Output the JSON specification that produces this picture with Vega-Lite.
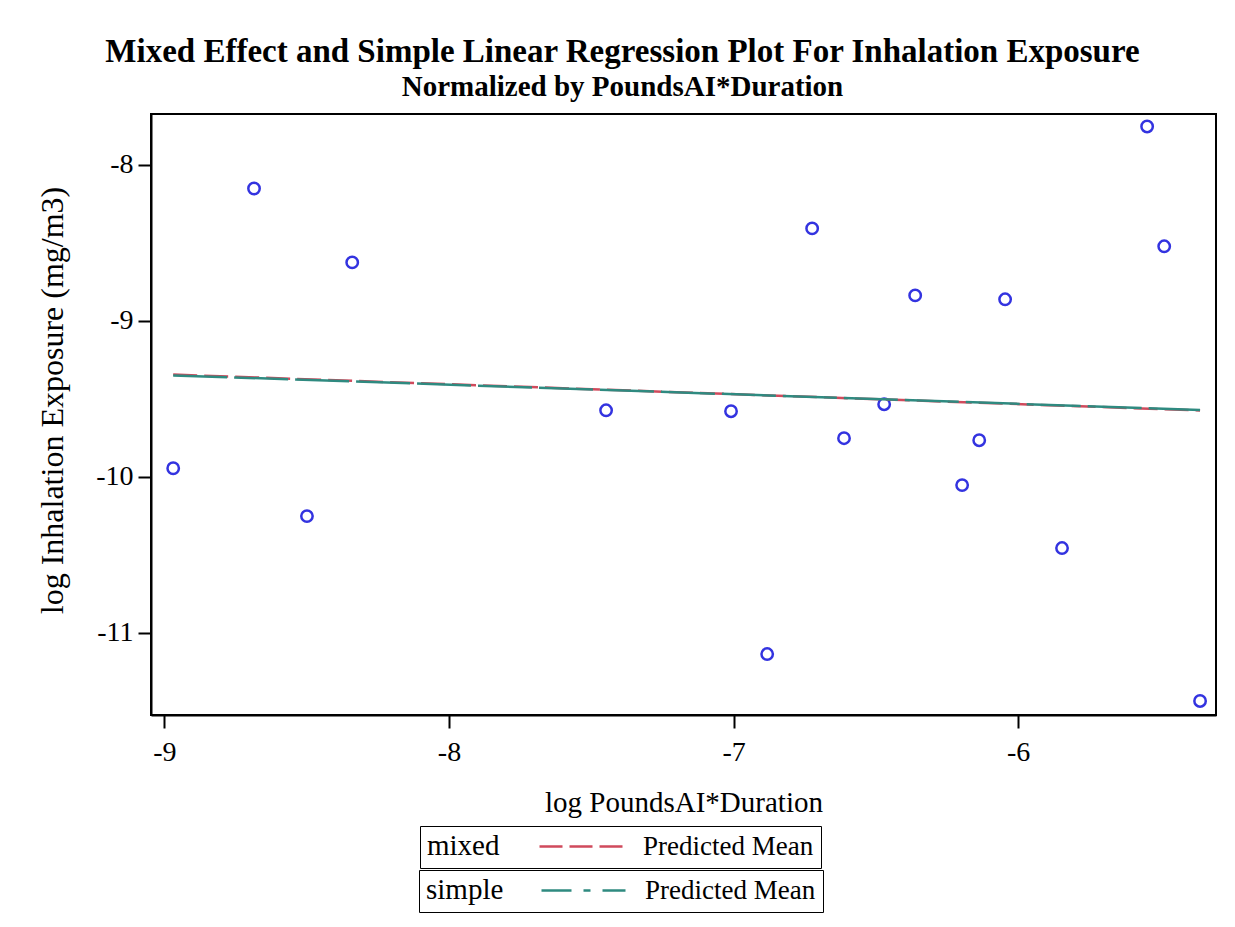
{
  "$schema": "https://vega.github.io/schema/vega-lite/v6.json",
  "autosize": {"type": "none"},
  "width": 1065,
  "height": 601,
  "padding": {"left": 151, "top": 114, "right": 19, "bottom": 212},
  "background": "white",
  "title": {
    "text": "Mixed Effect and Simple Linear Regression Plot For Inhalation Exposure",
    "subtitle": "Normalized by PoundsAI*Duration",
    "anchor": "middle",
    "frame": "group",
    "dx": -61,
    "offset": 12,
    "font": "Liberation Serif",
    "fontSize": 33,
    "fontWeight": "bold",
    "color": "black",
    "subtitleFont": "Liberation Serif",
    "subtitleFontSize": 29,
    "subtitleFontWeight": "bold",
    "subtitleColor": "black",
    "subtitlePadding": 4
  },
  "datasets": {
    "points": [
      {"x": -8.969, "y": -9.946},
      {"x": -8.685, "y": -8.151},
      {"x": -8.499, "y": -10.253},
      {"x": -8.340, "y": -8.625},
      {"x": -7.448, "y": -9.574},
      {"x": -7.009, "y": -9.580},
      {"x": -6.882, "y": -11.138},
      {"x": -6.724, "y": -8.407},
      {"x": -6.612, "y": -9.753},
      {"x": -6.471, "y": -9.535},
      {"x": -6.362, "y": -8.837},
      {"x": -6.197, "y": -10.054},
      {"x": -6.137, "y": -9.766},
      {"x": -6.046, "y": -8.862},
      {"x": -5.846, "y": -10.458},
      {"x": -5.547, "y": -7.753},
      {"x": -5.487, "y": -8.522},
      {"x": -5.361, "y": -11.439}
    ],
    "mixed": [
      {"x": -8.969, "y": -9.345, "label": "Predicted Mean"},
      {"x": -5.361, "y": -9.575, "label": "Predicted Mean"}
    ],
    "simple": [
      {"x": -8.969, "y": -9.350, "label": "Predicted Mean"},
      {"x": -5.361, "y": -9.572, "label": "Predicted Mean"}
    ]
  },
  "layer": [
    {
      "data": {"name": "points"},
      "mark": {"type": "point", "shape": "circle", "filled": false, "size": 130, "strokeWidth": 2.5, "color": "#3333e0", "opacity": 1},
      "encoding": {
        "x": {"field": "x", "type": "quantitative"},
        "y": {"field": "y", "type": "quantitative"}
      }
    },
    {
      "data": {"name": "mixed"},
      "mark": {"type": "line", "strokeWidth": 2.5, "strokeDash": [24, 7]},
      "encoding": {
        "x": {"field": "x", "type": "quantitative"},
        "y": {"field": "y", "type": "quantitative"},
        "color": {
          "field": "label", "type": "nominal",
          "scale": {"domain": ["Predicted Mean"], "range": ["#d04a5c"]},
          "legend": {
            "title": "mixed",
            "orient": "none",
            "legendX": 269,
            "legendY": 712,
            "titleOrient": "left",
            "titleFont": "Liberation Serif",
            "titleFontSize": 29,
            "titleFontWeight": "normal",
            "titleColor": "black",
            "titlePadding": 38,
            "labelFont": "Liberation Serif",
            "labelFontSize": 27,
            "labelColor": "black",
            "labelLimit": 400,
            "labelOffset": 78,
            "symbolType": "M-1,0H6",
            "symbolSize": 576,
            "symbolStrokeWidth": 2.5,
            "symbolDash": [23, 7],
            "strokeColor": "black",
            "padding": 7
          }
        }
      }
    },
    {
      "data": {"name": "simple"},
      "mark": {"type": "line", "strokeWidth": 2.5, "strokeDash": [54, 7]},
      "encoding": {
        "x": {"field": "x", "type": "quantitative"},
        "y": {"field": "y", "type": "quantitative"},
        "color": {
          "field": "label", "type": "nominal",
          "scale": {"domain": ["Predicted Mean"], "range": ["#2f8a80"]},
          "legend": {
            "title": "simple",
            "orient": "none",
            "legendX": 268,
            "legendY": 756,
            "titleOrient": "left",
            "titleFont": "Liberation Serif",
            "titleFontSize": 29,
            "titleFontWeight": "normal",
            "titleColor": "black",
            "titlePadding": 36,
            "labelFont": "Liberation Serif",
            "labelFontSize": 27,
            "labelColor": "black",
            "labelLimit": 400,
            "labelOffset": 78,
            "symbolType": "M-1,0H6",
            "symbolSize": 576,
            "symbolStrokeWidth": 2.5,
            "symbolDash": [30, 12, 7, 12],
            "strokeColor": "black",
            "padding": 7
          }
        }
      }
    }
  ],
  "resolve": {"scale": {"color": "independent"}, "legend": {"color": "independent"}},
  "encoding": {
    "x": {
      "field": "x", "type": "quantitative",
      "scale": {"domain": [-9.047, -5.305], "nice": false, "zero": false},
      "axis": {
        "title": "log PoundsAI*Duration",
        "values": [-9, -8, -7, -6],
        "labelExpr": "'' + datum.value",
        "grid": false,
        "tickSize": 13, "tickWidth": 2, "tickColor": "black",
        "domainColor": "black", "domainWidth": 2,
        "labelFont": "Liberation Serif", "labelFontSize": 28, "labelColor": "black",
        "labelPadding": 10,
        "titleFont": "Liberation Serif", "titleFontSize": 29, "titleFontWeight": "normal", "titleColor": "black",
        "titlePadding": 22
      }
    },
    "y": {
      "field": "y", "type": "quantitative",
      "scale": {"domain": [-11.529, -7.673], "nice": false, "zero": false},
      "axis": {
        "title": "log Inhalation Exposure (mg/m3)",
        "values": [-11, -10, -9, -8],
        "labelExpr": "'' + datum.value",
        "grid": false,
        "tickSize": 13, "tickWidth": 2, "tickColor": "black",
        "domainColor": "black", "domainWidth": 2,
        "labelFont": "Liberation Serif", "labelFontSize": 28, "labelColor": "black",
        "labelPadding": 5,
        "titleFont": "Liberation Serif", "titleFontSize": 32, "titleFontWeight": "normal", "titleColor": "black",
        "titlePadding": 26,
        "titleY": 286
      }
    }
  },
  "config": {
    "view": {"stroke": "black", "strokeWidth": 2}
  }
}
